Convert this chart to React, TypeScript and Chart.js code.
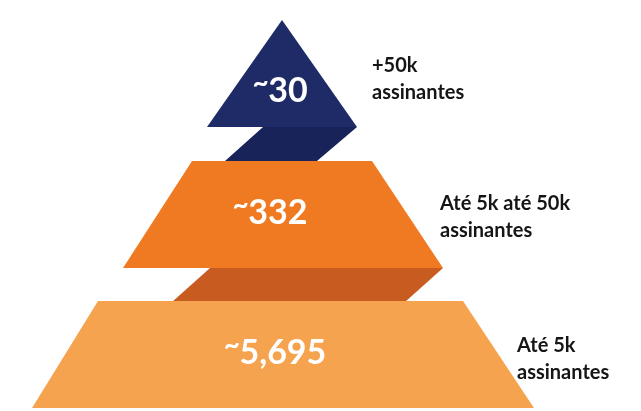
import React, { useEffect, useRef } from "react";
import { Chart, registerables } from "chart.js";

Chart.register(...registerables);

// ---- data ----
const tierCounts = [30, 332, 5695];
const tierLabelLine1 = ["+50k", "Até 5k até 50k", "Até 5k"];
const tierLabelLine2 = ["assinantes", "assinantes", "assinantes"];

// ---- layout / style (scale units = page pixels) ----
const W = 641;
const H = 411;
const tierFaces = [
  [[282, 20], [357, 127], [207, 127]],
  [[192, 161], [372, 161], [443, 268], [123, 268]],
  [[98, 301], [463, 301], [534, 408], [32, 408]],
];
const tierSides = [
  [[263, 127], [357, 127], [317, 161], [225, 161]],
  [[210, 268], [443, 268], [405, 302], [172, 302]],
  null,
];
const faceColors = ["#1f2b66", "#f07a22", "#f6a34f"];
const sideColors = ["#18235a", "#c75b20", null];
const countPos = [[280, 91], [270, 213], [275, 353]];
const labelPos = [[372, 66], [440, 204], [517, 346]];
const labelLineGap = 27;

const pyramidPlugin = {
  id: "pyramid",
  afterDraw(chart: any) {
    const ctx = chart.ctx;
    const xs = chart.scales.x;
    const ys = chart.scales.y;
    const px = (v: number) => xs.getPixelForValue(v);
    const py = (v: number) => ys.getPixelForValue(v);
    const poly = (pts: number[][], color: string) => {
      ctx.beginPath();
      pts.forEach((p, i) => {
        if (i === 0) ctx.moveTo(px(p[0]), py(p[1]));
        else ctx.lineTo(px(p[0]), py(p[1]));
      });
      ctx.closePath();
      ctx.fillStyle = color;
      ctx.fill();
    };
    ctx.save();
    tierCounts.forEach((_, i) => {
      poly(tierFaces[i], faceColors[i]);
      const side = tierSides[i];
      if (side) poly(side, sideColors[i] as string);
    });
    // counts (tilde raised like the original typeface)
    ctx.textBaseline = "middle";
    ctx.fillStyle = "#ffffff";
    ctx.font = "bold 34px Lato, 'Open Sans', sans-serif";
    tierCounts.forEach((v, i) => {
      const num = v.toLocaleString("en-US");
      const tw = ctx.measureText("~").width * 0.8;
      const nw = ctx.measureText(num).width;
      const total = tw + nw;
      const cx = px(countPos[i][0]);
      const cy = py(countPos[i][1]);
      const left = cx - total / 2;
      ctx.textAlign = "left";
      ctx.fillText(num, left + tw, cy);
      ctx.save();
      ctx.font = "bold 28px Lato, 'Open Sans', sans-serif";
      ctx.fillText("~", left, cy - 8);
      ctx.restore();
    });
    // labels
    ctx.textAlign = "left";
    ctx.fillStyle = "#151515";
    ctx.font = "bold 20px Lato, 'Open Sans', sans-serif";
    tierCounts.forEach((_, i) => {
      const [lx, ly] = labelPos[i];
      ctx.fillText(tierLabelLine1[i], px(lx), py(ly));
      ctx.fillText(tierLabelLine2[i], px(lx), py(ly + labelLineGap));
    });
    ctx.restore();
  },
};

export default function App() {
  const ref = useRef<HTMLCanvasElement | null>(null);
  useEffect(() => {
    if (!ref.current) return;
    const chart = new Chart(ref.current, {
      type: "scatter",
      data: {
        datasets: [
          {
            label: "tiers",
            data: tierCounts.map((v, i) => ({ x: countPos[i][0], y: countPos[i][1], v })),
            pointRadius: 0,
            showLine: false,
          },
        ],
      },
      options: {
        responsive: false,
        animation: false,
        devicePixelRatio: 1,
        layout: { padding: 0 },
        plugins: { legend: { display: false }, tooltip: { enabled: false } },
        scales: {
          x: { type: "linear", min: 0, max: W, display: false },
          y: { type: "linear", min: 0, max: H, reverse: true, display: false },
        },
      },
      plugins: [pyramidPlugin],
    } as any);
    return () => chart.destroy();
  }, []);
  return (
    <div style={{ position: "fixed", left: 0, top: 0, width: W, height: H, background: "#ffffff" }}>
      <canvas ref={ref} width={W} height={H} style={{ display: "block" }} />
    </div>
  );
}
